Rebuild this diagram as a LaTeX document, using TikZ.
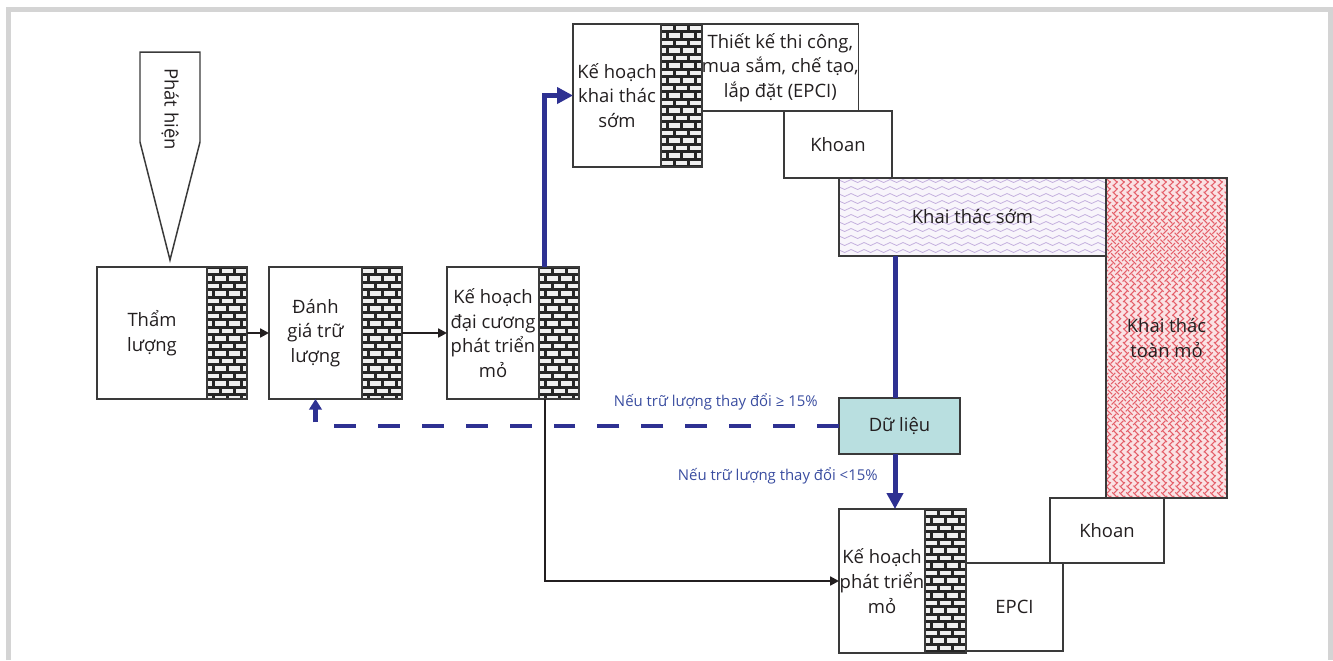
\documentclass[tikz,border=0pt]{standalone}
\usepackage{fontspec}
\setmainfont{Open Sans}
\usetikzlibrary{arrows.meta, decorations.pathmorphing, backgrounds}

\definecolor{flowblue}{RGB}{46,49,146}
\definecolor{labelblue}{RGB}{58,77,160}
\definecolor{boxline}{RGB}{58,58,58}
\definecolor{textdark}{RGB}{35,31,32}
\definecolor{datafill}{RGB}{185,223,224}
\definecolor{framegray}{RGB}{212,212,212}
\definecolor{wavebg}{RGB}{248,245,251}
\definecolor{wavelc}{RGB}{196,176,222}
\definecolor{weavebg}{RGB}{250,226,228}
\definecolor{weavelc}{RGB}{228,96,106}

\newcommand{\brickfill}[1]{%
  \begin{scope}
    \clip (#1.north west) rectangle (#1.south east);
    \fill[black!85] (#1.north west) rectangle (#1.south east);
    \begin{scope}[shift={(#1.north west)}]
      \foreach \row [evaluate=\row as \off using {mod(\row,2)*7}] in {0,...,19}
        \foreach \col in {-1,...,3}
          \fill[black!6] (\col*14+\off+1.5,\row*7.5+1.5) rectangle ++(11,4.6);
    \end{scope}
  \end{scope}}

\tikzset{
  box/.style={draw=boxline, line width=0.85pt, fill=white, inner sep=0pt, outer sep=0pt,
    align=center, text=textdark, font=\fontsize{10.5}{14}\selectfont},
  brick/.style={draw=boxline, line width=0.85pt, inner sep=0pt, outer sep=0pt,
    minimum width=0.8cm, anchor=north west},
  flow/.style={textdark, line width=1.2pt, -{Triangle[length=5pt, width=5pt]}},
  bigline/.style={flowblue, line width=2.85pt},
  bigflow/.style={bigline, -{Triangle[length=9pt, width=9pt]}},
  back/.style={flowblue, line width=2.3pt, dash pattern=on 12.5pt off 12.5pt,
    -{Triangle[length=6pt, width=7pt]}},
  lbl/.style={text=labelblue, inner sep=0pt, font=\fontsize{8.5}{10}\selectfont}
}

\begin{document}
\begin{tikzpicture}[x=0.02cm, y=-0.02cm]
  \useasboundingbox (0,0) rectangle (1333,660);
  \draw[framegray, line width=2.7pt] (8.5,660) -- (8.5,9.3) -- (1330.7,9.3) -- (1330.7,660);

  % discovery pointer
  \draw[boxline, line width=0.85pt, fill=white] (140,52) -- (200,52) -- (200,142) -- (170,260) -- (140,142) -- cycle;
  \node[rotate=-90, text=textdark, font=\fontsize{10.5}{14}\selectfont] (phathien) at (170,109) {Phát hiện};

  % main chain
  \node[box, minimum width=2.2cm, minimum height=2.64cm] (tham) at (152,333) {Thẩm\\lượng};
  \node[brick, minimum height=2.64cm] (thamB) at (tham.north east) {};
  \node[box, minimum width=1.86cm, minimum height=2.64cm] (danhgia) at (315.5,333) {Đánh\\giá trữ\\lượng};
  \node[brick, minimum height=2.64cm] (danhgiaB) at (danhgia.north east) {};
  \node[box, minimum width=1.84cm, minimum height=2.64cm] (daicuong) at (493,333) {Kế hoạch\\đại cương\\phát triển\\mỏ};
  \node[brick, minimum height=2.64cm] (daicuongB) at (daicuong.north east) {};

  % early production branch
  \node[box, minimum width=1.76cm, minimum height=2.86cm] (khsom) at (617,95.5) {Kế hoạch\\khai thác\\sớm};
  \node[brick, minimum width=0.82cm, minimum height=2.86cm] (khsomB) at (khsom.north east) {};
  \node[box, minimum width=3.12cm, minimum height=1.74cm, anchor=north west] (epcitop) at (khsomB.north east) {Thiết kế thi công,\\mua sắm, chế tạo,\\lắp đặt (EPCI)};
  \node[box, minimum width=2.16cm, minimum height=1.34cm] (khoanA) at (838,144.5) {Khoan};
  \node[box, fill=none, minimum width=2.42cm, minimum height=6.4cm] (toanmo) at (1166.5,338) {Khai thác\\toàn mỏ};
  \node[box, fill=none, minimum width=5.34cm, minimum height=1.56cm] (ktsom) at (972.5,217) {Khai thác sớm};
  \node[box, fill=datafill, minimum width=2.42cm, minimum height=1.12cm] (dulieu) at (899.5,426) {Dữ liệu};

  % full field branch
  \node[box, minimum width=1.72cm, minimum height=2.88cm] (ptmo) at (882,581) {Kế hoạch\\phát triển\\mỏ};
  \node[brick, minimum width=0.82cm, minimum height=2.88cm] (ptmoB) at (ptmo.north east) {};
  \node[box, minimum width=1.94cm, minimum height=1.76cm] (epci) at (1014.5,607) {EPCI};
  \node[box, minimum width=2.28cm, minimum height=1.3cm] (khoanB) at (1107,530.5) {Khoan};

  % fills
  \begin{scope}[on background layer]
    \foreach \b in {thamB, danhgiaB, daicuongB, khsomB, ptmoB}
      \brickfill{\b};
    \begin{scope}
      \clip (ktsom.north west) rectangle (ktsom.south east);
      \fill[wavebg] (ktsom.north west) rectangle (ktsom.south east);
      \begin{scope}[shift={(ktsom.north west)}]
        \foreach \row in {0,...,11}
          \draw[wavelc, line width=0.45pt, decorate,
            decoration={snake, segment length=2.6mm, amplitude=0.3mm}]
            (-5,\row*7+3) -- (280,\row*7+3);
      \end{scope}
    \end{scope}
    \begin{scope}
      \clip (toanmo.north west) rectangle (toanmo.south east);
      \fill[weavebg] (toanmo.north west) rectangle (toanmo.south east);
      \begin{scope}[shift={(toanmo.north west)}]
        \foreach \i in {-50,...,20} {
          \draw[weavelc, line width=0.6pt, dash pattern=on 3.5pt off 2pt] (\i*7,0) -- ++(330,330);
          \draw[weavelc, line width=0.6pt, dash pattern=on 3.5pt off 2pt, dash phase=2.7pt] (\i*7+330,0) -- ++(-330,330);
        }
      \end{scope}
    \end{scope}
  \end{scope}

  % connectors
  \coordinate (bluex) at (895,0);
  \draw[flow] (thamB.east) -- (danhgia.west);
  \draw[flow] (danhgiaB.east) -- (daicuong.west);
  \draw[bigflow] ([xshift=0.12cm]daicuongB.north west) |- (khsom.west);
  \draw[flow] ([xshift=0.12cm]daicuongB.south west) |- (ptmo.west);
  \draw[bigline] (ktsom.south -| bluex) -- (dulieu.north -| bluex);
  \draw[bigflow] (dulieu.south -| bluex) -- (ptmo.north -| bluex);
  \draw[back] (dulieu.west) -| (danhgia.south);

  \node[lbl, anchor=east] (lblge) at (818,402) {Nếu trữ lượng thay đổi ≥ 15\%};
  \node[lbl, anchor=east] (lbllt) at (878,476) {Nếu trữ lượng thay đổi <15\%};
\end{tikzpicture}
\end{document}
